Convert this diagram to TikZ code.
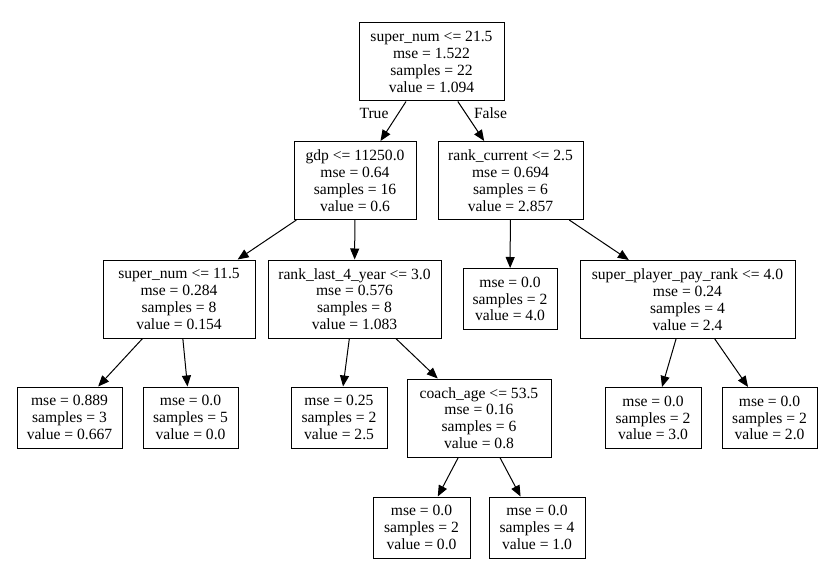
\documentclass[tikz,border=0pt]{standalone}
\usepackage{fontspec}
\setmainfont{Liberation Serif}
\usetikzlibrary{arrows.meta}
\begin{document}
\begin{tikzpicture}[x=1pt,y=-1pt,
  box/.style={draw=black, line width=1pt, rectangle, align=center, inner sep=0pt, font=\fontsize{15.6}{16.8}\selectfont},
  four/.style={box, minimum height=78pt},
  three/.style={box, minimum height=61pt},
  edge/.style={draw=black, line width=1pt, -{Triangle[length=11pt,width=9pt]}},
  lbl/.style={font=\fontsize{15.6}{16.8}\selectfont, inner sep=0pt}]
\useasboundingbox (0,0) rectangle (827,564);
\fill[white] (0,0) rectangle (827,564);

\node[four, minimum width=145pt] (root) at (431.5,62) {super\_num <= 21.5\\mse = 1.522\\samples = 22\\value = 1.094};
\node[four, minimum width=122pt] (gdp) at (355,180.5) {gdp <= 11250.0\\mse = 0.64\\samples = 16\\value = 0.6};
\node[four, minimum width=145pt] (rc) at (510.5,180.5) {rank\_current <= 2.5\\mse = 0.694\\samples = 6\\value = 2.857};
\node[four, minimum width=152pt] (sn) at (179,299) {super\_num <= 11.5\\mse = 0.284\\samples = 8\\value = 0.154};
\node[four, minimum width=173pt] (rl) at (354.5,299) {rank\_last\_4\_year <= 3.0\\mse = 0.576\\samples = 8\\value = 1.083};
\node[three, minimum width=94pt] (l4) at (510,299) {mse = 0.0\\samples = 2\\value = 4.0};
\node[four, minimum width=215pt] (sp) at (687.5,299.5) {super\_player\_pay\_rank <= 4.0\\mse = 0.24\\samples = 4\\value = 2.4};
\node[three, minimum width=105pt] (la) at (69.5,417.5) {mse = 0.889\\samples = 3\\value = 0.667};
\node[three, minimum width=95pt] (lb) at (190.5,417.5) {mse = 0.0\\samples = 5\\value = 0.0};
\node[three, minimum width=96pt] (lc) at (339,417.5) {mse = 0.25\\samples = 2\\value = 2.5};
\node[four, minimum width=144pt] (ca) at (479,418) {coach\_age <= 53.5\\mse = 0.16\\samples = 6\\value = 0.8};
\node[three, minimum width=96pt] (ld) at (653,418) {mse = 0.0\\samples = 2\\value = 3.0};
\node[three, minimum width=95pt] (le) at (769.5,418) {mse = 0.0\\samples = 2\\value = 2.0};
\node[three, minimum width=97pt] (lf) at (421.5,527.5) {mse = 0.0\\samples = 2\\value = 0.0};
\node[three, minimum width=96pt] (lg) at (537,527.5) {mse = 0.0\\samples = 4\\value = 1.0};

\node[lbl] (ltrue) at (374,113) {True};
\node[lbl] (lfalse) at (490.5,113) {False};

\draw[edge] (root) -- (gdp);
\draw[edge] (root) -- (rc);
\draw[edge] (gdp) -- (sn);
\draw[edge] (gdp) -- (rl);
\draw[edge] (rc) -- (l4);
\draw[edge] (rc) -- (sp);
\draw[edge] (sn) -- (la);
\draw[edge] (sn) -- (lb);
\draw[edge] (rl) -- (lc);
\draw[edge] (rl) -- (ca);
\draw[edge] (sp) -- (ld);
\draw[edge] (sp) -- (le);
\draw[edge] (ca) -- (lf);
\draw[edge] (ca) -- (lg);
\end{tikzpicture}
\end{document}
